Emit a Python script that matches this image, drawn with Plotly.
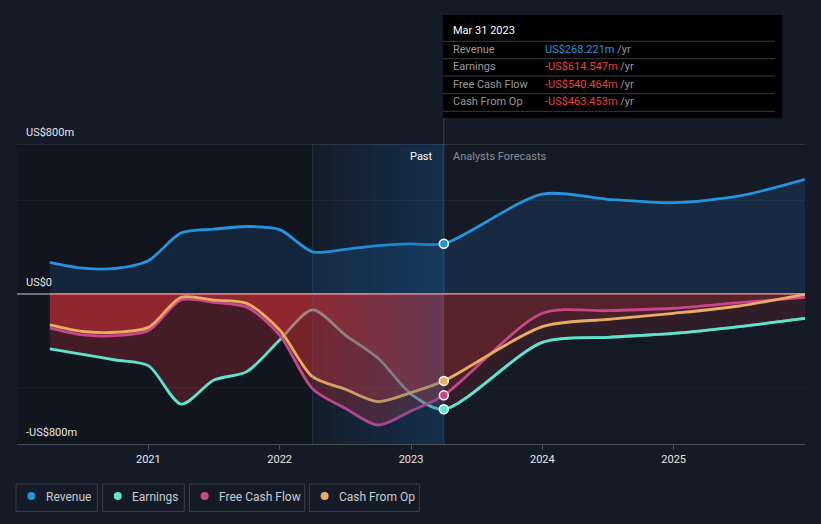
import plotly.graph_objects as go

# ---------------- data ----------------
years_past = [2020.25, 2020.5, 2020.75, 2021.0, 2021.25, 2021.5, 2021.75,
              2022.0, 2022.25, 2022.5, 2022.75, 2023.0, 2023.25]
years_fc = [2024.0, 2024.5, 2025.0, 2025.5, 2026.0]

revenue_past = [169, 138, 137, 178, 326, 346, 360, 343, 225, 238, 258, 267, 268.221]
revenue_fc = [533, 505, 487, 523, 612]

earnings_past = [-293, -322, -352, -382, -587, -459, -414, -245, -85, -219, -343, -533, -614.547]
earnings_fc = [-258, -231, -210, -174, -130]

fcf_past = [-182, -218, -222, -195, -32, -45, -70, -219, -505, -610, -699, -624, -540.464]
fcf_fc = [-103, -89, -76, -46, -18]

cfo_past = [-165, -200, -204, -178, -18, -33, -50, -192, -441, -508, -574, -526, -463.453]
cfo_fc = [-174, -135, -103, -64, -2]

tick_years = [2021, 2022, 2023, 2024, 2025]
tick_text = ["2021", "2022", "2023", "2024", "2025"]
y_labels = [(800, "US$800m"), (0, "US$0"), (-800, "-US$800m")]

series_names = ["Revenue", "Earnings", "Free Cash Flow", "Cash From Op"]
series_colors = ["#2394df", "#5fe3cf", "#c8468b", "#e8ad5e"]

tooltip_date = "Mar 31 2023"
tooltip_values = ["US$268.221m", "-US$614.547m", "-US$540.464m", "-US$463.453m"]

past_end = 2023.25
highlight_start = 2022.25
x_start, x_end = 2020.0, 2026.0

# ---------------- layout helpers ----------------
W, H = 821, 524
ML, MR, MT, MB = 17, 16, 144, 80
PW, PH = W - ML - MR, H - MT - MB
BG = "#151b26"
FONT = "Roboto"


def px_x(px):
    return (px - ML) / PW


def px_y(py):
    return (H - MB - py) / PH


x_all = years_past + years_fc
rev_all = revenue_past + revenue_fc
earn_all = earnings_past + earnings_fc
fcf_all = fcf_past + fcf_fc
cfo_all = cfo_past + cfo_fc

fig = go.Figure()
line_kw = dict(shape="spline", smoothing=0.8)
NOLINE = dict(color="rgba(0,0,0,0)", width=0, **line_kw)


def rect_trace(x0, x1, y0, y1, color):
    return go.Scatter(x=[x0, x1, x1, x0, x0], y=[y0, y0, y1, y1, y0], mode="lines",
                      fill="toself", fillcolor=color,
                      line=dict(width=0, color="rgba(0,0,0,0)"), hoverinfo="skip")


# revenue fill + line
fig.add_trace(go.Scatter(x=x_all, y=rev_all, mode="lines", fill="tozeroy",
                         fillcolor="rgba(35,120,200,0.17)",
                         line=dict(color=series_colors[0], width=2.8, **line_kw),
                         hoverinfo="skip"))
# earnings fill
fig.add_trace(go.Scatter(x=x_all, y=earn_all, mode="lines", fill="tozeroy",
                         fillcolor="rgba(220,50,60,0.25)", line=NOLINE, hoverinfo="skip"))
# earnings line
fig.add_trace(go.Scatter(x=x_all, y=earn_all, mode="lines",
                         line=dict(color=series_colors[1], width=2.8, **line_kw),
                         hoverinfo="skip"))
# cash flow fills (over earnings line)
for ys in (fcf_all, cfo_all):
    fig.add_trace(go.Scatter(x=x_all, y=ys, mode="lines", fill="tozeroy",
                             fillcolor="rgba(220,50,55,0.3)", line=NOLINE, hoverinfo="skip"))
# dim the negative fills in the forecast period
fig.add_trace(rect_trace(past_end, x_end, -800, 0, "rgba(21,27,38,0.45)"))

# cash flow lines
fig.add_trace(go.Scatter(x=x_all, y=fcf_all, mode="lines",
                         line=dict(color=series_colors[2], width=2.8, **line_kw),
                         hoverinfo="skip"))
fig.add_trace(go.Scatter(x=x_all, y=cfo_all, mode="lines",
                         line=dict(color=series_colors[3], width=2.8, **line_kw),
                         hoverinfo="skip"))

# highlight overlay (last twelve months) as a horizontal gradient of strips
N = 32
for i in range(N):
    a = 0.04 + (0.34 - 0.04) * (i + 0.5) / N
    xa = highlight_start + (past_end - highlight_start) * i / N
    xb = highlight_start + (past_end - highlight_start) * (i + 1) / N
    fig.add_trace(rect_trace(xa, xb, -800, 800, f"rgba(20,90,150,{a:.3f})"))

# forecast part of earnings line, redrawn undimmed (clipped by a forecast-only subplot)
fig.add_trace(go.Scatter(x=x_all, y=earn_all, mode="lines", xaxis="x2", yaxis="y",
                         line=dict(color=series_colors[1], width=2.8, **line_kw),
                         hoverinfo="skip"))

# markers at last actual
for val, col in zip([rev_all[12], earn_all[12], fcf_all[12], cfo_all[12]], series_colors):
    fig.add_trace(go.Scatter(x=[past_end], y=[val], mode="markers", xaxis="x2", yaxis="y",
                             cliponaxis=False,
                             marker=dict(size=9, color=col,
                                         line=dict(color="white", width=1.5)),
                             hoverinfo="skip"))

shapes = []
# darker past region
shapes.append(dict(type="rect", xref="x", yref="y", x0=x_start, x1=highlight_start,
                   y0=-800, y1=800, fillcolor="rgba(0,0,0,0.2)", line=dict(width=0),
                   layer="below"))
# grid lines
for gv, gc in [(800, "#474b54"), (500, "#262b35"), (-500, "#262b35")]:
    shapes.append(dict(type="line", xref="paper", yref="y", x0=0, x1=1, y0=gv, y1=gv,
                       line=dict(color=gc, width=1), layer="below"))
# zero line (white where there is no data, pinkish over the data)
shapes.append(dict(type="line", xref="paper", yref="y", x0=0, x1=1, y0=0, y1=0,
                   line=dict(color="#ffffff", width=1.2), layer="below"))
shapes.append(dict(type="line", xref="x", yref="y", x0=years_past[0], x1=x_end, y0=0, y1=0,
                   line=dict(color="rgba(242,160,160,0.85)", width=1.2), layer="above"))
# highlight left border
shapes.append(dict(type="line", xref="x", yref="y", x0=highlight_start, x1=highlight_start,
                   y0=-800, y1=800, line=dict(color="rgba(60,110,160,0.25)", width=1),
                   layer="above"))
# past/forecast divider
shapes.append(dict(type="line", xref="x", yref="paper", x0=past_end, x1=past_end,
                   y0=0, y1=px_y(118), line=dict(color="rgba(110,125,145,0.45)", width=1),
                   layer="below"))
# tooltip box
shapes.append(dict(type="rect", xref="paper", yref="paper", x0=px_x(443), x1=px_x(782),
                   y0=px_y(118), y1=px_y(15), fillcolor="#000000", line=dict(width=0),
                   layer="above"))
for sy in [41.3, 58.7, 76, 93.7, 111.3]:
    shapes.append(dict(type="line", xref="paper", yref="paper", x0=px_x(443), x1=px_x(775),
                       y0=px_y(sy), y1=px_y(sy), line=dict(color="#3a3a3a", width=1),
                       layer="above"))

annotations = []
# y labels
for v, t in y_labels:
    annotations.append(dict(xref="paper", yref="y", x=px_x(24), y=v, yshift=12,
                            text=t, showarrow=False, xanchor="left", yanchor="middle",
                            font=dict(family=FONT, size=11, color="#e6e6e6")))
# Past / Analysts Forecasts
annotations.append(dict(xref="paper", yref="paper", x=px_x(435), y=px_y(156), text="Past",
                        showarrow=False, xanchor="right", yanchor="middle",
                        font=dict(family=FONT, size=11, color="#ffffff")))
annotations.append(dict(xref="paper", yref="paper", x=px_x(451), y=px_y(156),
                        text="Analysts Forecasts", showarrow=False, xanchor="left",
                        yanchor="middle", font=dict(family=FONT, size=11, color="#8a8f98")))
# tooltip text
annotations.append(dict(xref="paper", yref="paper", x=px_x(451), y=px_y(31),
                        text=tooltip_date, showarrow=False, xanchor="left", yanchor="middle",
                        font=dict(family=FONT, size=11, color="#ffffff")))
row_y = [49.3, 66.7, 84.3, 101.7]
val_colors = ["#2394df", "#e8413a", "#e8413a", "#e8413a"]
for name, val, vc, ry in zip(series_names, tooltip_values, val_colors, row_y):
    annotations.append(dict(xref="paper", yref="paper", x=px_x(451), y=px_y(ry),
                            text=name, showarrow=False, xanchor="left", yanchor="middle",
                            font=dict(family=FONT, size=11, color="#9a9a9a")))
    annotations.append(dict(xref="paper", yref="paper", x=px_x(543), y=px_y(ry),
                            text=f"<span style='color:{vc}'>{val}</span> /yr",
                            showarrow=False, xanchor="left", yanchor="middle",
                            font=dict(family=FONT, size=11, color="#9a9a9a")))

# legend boxes
legend_boxes = [(16, 97.4, 31.4, 44), (102.6, 184.3, 117.8, 129.8),
                (189.5, 304.7, 204.7, 216.8), (309.4, 419.4, 324.6, 337.2)]
for (bx0, bx1, dx, tx), name, col in zip(legend_boxes, series_names, series_colors):
    shapes.append(dict(type="rect", xref="paper", yref="paper", x0=px_x(bx0), x1=px_x(bx1),
                       y0=px_y(511.5), y1=px_y(484), fillcolor="rgba(0,0,0,0)",
                       line=dict(color="#3a3f4a", width=1)))
    shapes.append(dict(type="circle", xref="paper", yref="paper", x0=px_x(dx - 4),
                       x1=px_x(dx + 4), y0=px_y(500), y1=px_y(492), fillcolor=col,
                       line=dict(width=0)))
    annotations.append(dict(xref="paper", yref="paper", x=px_x(tx), y=px_y(497), text=name,
                            showarrow=False, xanchor="left", yanchor="middle",
                            font=dict(family=FONT, size=12, color="#c8ccd2")))

split = (past_end - x_start) / (x_end - x_start)
fig.update_layout(
    width=W, height=H, margin=dict(l=ML, r=MR, t=MT, b=MB),
    paper_bgcolor=BG, plot_bgcolor="rgba(0,0,0,0)", showlegend=False,
    shapes=shapes, annotations=annotations,
    font=dict(family=FONT),
    xaxis=dict(range=[x_start, x_end], tickvals=tick_years, ticktext=tick_text,
               showgrid=False, zeroline=False, showline=True, linecolor="#4a4e56",
               linewidth=1, ticks="outside", ticklen=5, tickcolor="#4a4e56",
               tickfont=dict(family=FONT, size=11, color="#e6e6e6"), fixedrange=True),
    xaxis2=dict(domain=[split, 1], range=[past_end, x_end], anchor="y", visible=False,
                showgrid=False, zeroline=False, fixedrange=True),
    yaxis=dict(range=[-800, 800], showgrid=False, zeroline=False, showticklabels=False,
               fixedrange=True),
)

fig.write_html("out.html")
